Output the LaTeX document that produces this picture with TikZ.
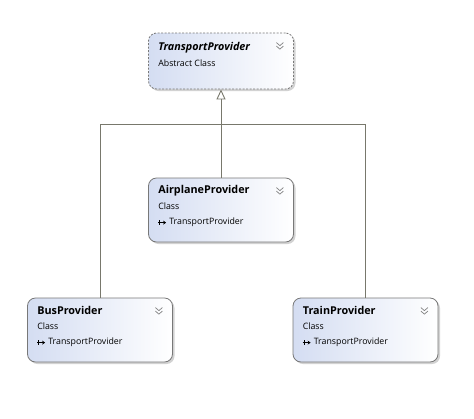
\documentclass[tikz,border=0pt]{standalone}
\usepackage{fontspec}
\setmainfont{Open Sans}
\usetikzlibrary{shadows,arrows.meta,calc}
\definecolor{boxleft}{RGB}{212,221,242}
\definecolor{boxborder}{RGB}{120,120,120}
\definecolor{linecol}{RGB}{120,120,108}
\definecolor{iconcol}{RGB}{130,130,130}
\tikzset{
  classbox/.style={draw=boxborder, rounded corners=8pt, left color=boxleft, right color=white,
    minimum width=145pt, minimum height=64pt, line width=0.8pt,
    drop shadow={shadow xshift=2pt, shadow yshift=-2pt, opacity=0.35, fill=gray}},
  abstractbox/.style={classbox, dashed, dash pattern=on 2pt off 1.5pt, minimum height=56pt},
  titletext/.style={anchor=west, inner sep=0pt, font=\fontsize{10.8}{12}\selectfont\bfseries},
  smalltext/.style={anchor=west, inner sep=0pt, font=\fontsize{8.8}{10}\selectfont},
  conn/.style={draw=linecol, line width=0.9pt},
  chev/.style={draw=iconcol, line width=0.7pt},
}
\newcommand{\chevron}[1]{%
  \draw[chev] ($(#1.north east)+(-17.5,10)$) -- ++(3.5,3) -- ++(3.5,-3);
  \draw[chev] ($(#1.north east)+(-17.5,13.5)$) -- ++(3.5,3) -- ++(3.5,-3);
}
\newcommand{\inhicon}[1]{%
  \draw[line width=0.7pt, -{Stealth[length=3pt,width=4pt]}] ($(#1)+(0,0)$) -- ++(8,0);
  \draw[line width=0.7pt] ($(#1)+(1.5,-2.5)$) -- ++(0,5);
}
\begin{document}
\begin{tikzpicture}[x=1pt,y=-1pt]
\useasboundingbox[fill=white] (0,0) rectangle (474,418);

\node[abstractbox] (tp) at (221,61) {};
\node[classbox] (air) at (221,210) {};
\node[classbox] (bus) at (100,330) {};
\node[classbox] (train) at (365.5,330) {};

% TransportProvider
\node[titletext, font=\fontsize{10.8}{12}\selectfont\bfseries\itshape] (tpT) at ($(tp.north west)+(10,15)$) {TransportProvider};
\node[smalltext] (tpS) at ($(tp.north west)+(10,31)$) {Abstract Class};
\chevron{tp}

% AirplaneProvider
\node[titletext] (airT) at ($(air.north west)+(10,13)$) {AirplaneProvider};
\node[smalltext] (airS) at ($(air.north west)+(10,29)$) {Class};
\coordinate (airI) at ($(air.north west)+(10,45)$);
\inhicon{airI}
\node[smalltext] (airB) at ($(air.north west)+(21,45)$) {TransportProvider};
\chevron{air}

% BusProvider
\node[titletext] (busT) at ($(bus.north west)+(10,13)$) {BusProvider};
\node[smalltext] (busS) at ($(bus.north west)+(10,29)$) {Class};
\coordinate (busI) at ($(bus.north west)+(10,45)$);
\inhicon{busI}
\node[smalltext] (busB) at ($(bus.north west)+(21,45)$) {TransportProvider};
\chevron{bus}

% TrainProvider
\node[titletext] (trainT) at ($(train.north west)+(10,13)$) {TrainProvider};
\node[smalltext] (trainS) at ($(train.north west)+(10,29)$) {Class};
\coordinate (trainI) at ($(train.north west)+(10,45)$);
\inhicon{trainI}
\node[smalltext] (trainB) at ($(train.north west)+(21,45)$) {TransportProvider};
\chevron{train}

% connectors
\coordinate (j) at (221,124);
\draw[conn] (bus.north) |- (j);
\draw[conn] (train.north) |- (j);
\draw[conn] (air.north) -- (j);
\draw[conn, -{Triangle[open, length=10pt, width=9pt]}] (j) -- (tp.south);
\end{tikzpicture}
\end{document}
